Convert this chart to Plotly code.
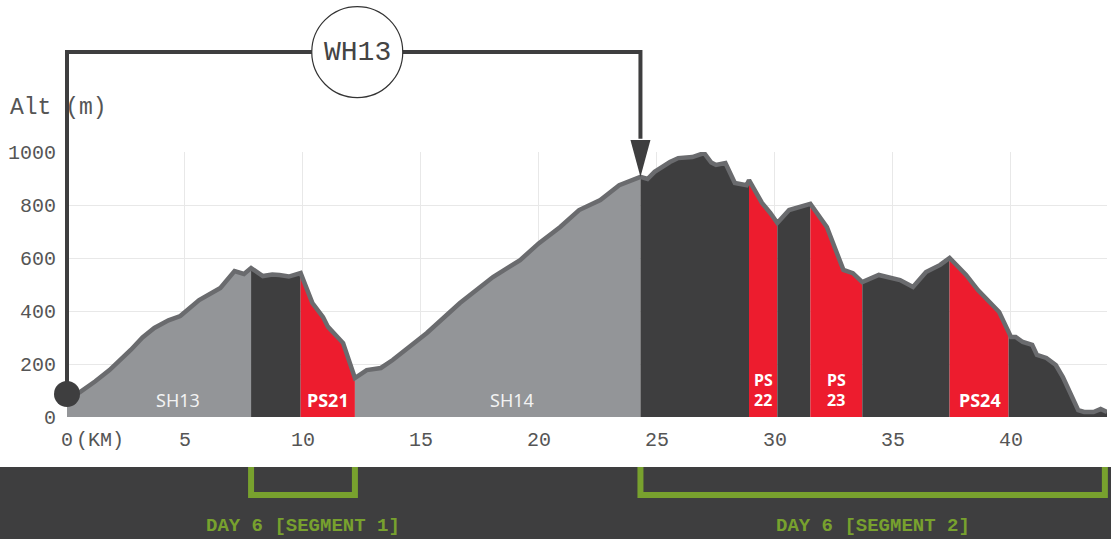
import numpy as np
import plotly.graph_objects as go

# ---------------- data ----------------
KM = [0, 0.55, 1.2, 1.8, 2.7, 3.2, 3.7, 4.3, 4.8, 5.6, 6.5, 7.1, 7.5, 7.8,
      8.3, 8.7, 9.0, 9.4, 9.9, 10.4, 10.85, 11.06, 11.7, 12.2, 12.7, 13.3,
      13.8, 15.25, 16.65, 18.05, 19.2, 20.0, 20.9, 21.7, 22.6, 23.4, 24.3,
      24.6, 24.9, 25.3, 25.55, 25.9, 26.5, 27.0, 27.3, 27.5, 27.9, 28.3, 28.8,
      28.9, 29.45, 29.8, 30.1, 30.6, 31.05, 31.5, 32.2, 32.9, 33.3, 33.7,
      34.4, 35.3, 35.85, 36.4, 37.0, 37.4, 38.1, 38.6, 39.5, 40.0, 40.2, 40.5,
      40.9, 41.1, 41.5, 41.9, 42.2, 42.5, 42.85, 43.1, 43.5, 43.8, 44.07]
ALT = [65, 94, 135, 177, 253, 300, 336, 365, 381, 441, 487, 551, 540, 562,
       532, 538, 536, 530, 543, 430, 377, 340, 279, 147, 177, 185,
       215, 317, 430, 528, 592, 656, 717, 781, 819, 875, 906,
       898, 925, 950, 962, 977, 981, 996, 960, 951, 958, 883, 875,
       894, 808, 770, 732, 781, 792, 804, 717, 555, 543, 509,
       536, 517, 491, 547, 574, 600, 536, 479, 396, 302, 302, 283,
       272, 234, 223, 196, 151, 91, 26, 19, 19, 30, 19]

SEG_BOUNDS = [0, 7.8, 9.9, 12.2, 24.3, 28.9, 30.1, 31.5, 33.7, 37.4, 39.9, 44.07]
SEG_KIND = ["sh", "dark", "ps", "sh", "dark", "ps", "dark", "ps", "dark", "ps", "dark"]
LABELS = ["SH13", "PS21", "SH14", "PS<br>22", "PS<br>23", "PS24"]
LABEL_KM = [4.7, 11.05, 18.85, 29.5, 32.6, 38.7]

X_TICKS = [0, 5, 10, 15, 20, 25, 30, 35, 40]
Y_TICKS = [0, 200, 400, 600, 800, 1000]

STAGE = "WH13"
DAY_LABELS = ["DAY 6 [SEGMENT 1]", "DAY 6 [SEGMENT 2]"]
DAY_RANGES = [(7.8, 12.2), (24.3, 43.98)]

X_MAX = 44.07
Y_MAX = 1000

COLORS = {"sh": "#939598", "dark": "#3e3e3f", "ps": "#ed1c2e"}
LINE_COLOR = "#6a6b6e"
INK = "#3e3e3f"
GREEN = "#78a12e"
MONO = "Liberation Mono, DejaVu Sans Mono, monospace"
SANS = "Noto Sans, Open Sans, sans-serif"

def xp(km):
    return km / X_MAX

def yp(alt):
    return alt / Y_MAX

fig = go.Figure()

# segment fills
km_arr = np.array(KM, dtype=float)
alt_arr = np.array(ALT, dtype=float)
for i, kind in enumerate(SEG_KIND):
    a, b = SEG_BOUNDS[i], SEG_BOUNDS[i + 1]
    xs = [a] + [k for k in KM if a < k < b] + [b]
    ys = np.interp(xs, km_arr, alt_arr)
    fig.add_trace(go.Scatter(x=xs, y=ys, mode="lines", fill="tozeroy",
                             fillcolor=COLORS[kind], line=dict(width=0.6, color=COLORS[kind]),
                             hoverinfo="skip", showlegend=False))

# profile line
fig.add_trace(go.Scatter(x=KM, y=ALT, mode="lines",
                         line=dict(color=LINE_COLOR, width=4.5),
                         hoverinfo="skip", showlegend=False))

# start marker
fig.add_trace(go.Scatter(x=[KM[0]], y=[87], mode="markers", cliponaxis=False,
                         marker=dict(size=26, color=INK, line=dict(width=0)),
                         hoverinfo="skip", showlegend=False))

shapes = []
# connector WH13
top = 1377
shapes.append(dict(type="path", xref="paper", yref="paper",
                   path=f"M {xp(0)},{yp(87)} L {xp(0)},{yp(top)} L {xp(24.3)},{yp(top)} L {xp(24.3)},{yp(1050)}",
                   line=dict(color=INK, width=4)))
hw = 10 / 1040
shapes.append(dict(type="path", xref="paper", yref="paper",
                   path=f"M {xp(24.3)-hw},{yp(1045)} L {xp(24.3)+hw},{yp(1045)} L {xp(24.3)},{yp(906)} Z",
                   fillcolor=INK, line=dict(color=INK, width=0)))
shapes.append(dict(type="circle", xref="paper", yref="paper",
                   xsizemode="pixel", ysizemode="pixel",
                   xanchor=xp(12.3), yanchor=yp(top),
                   x0=-45.5, x1=45.5, y0=-45.5, y1=45.5,
                   fillcolor="white", line=dict(color="#333333", width=1.2)))

# bottom band
shapes.append(dict(type="rect", xref="paper", yref="paper",
                   x0=-0.1, x1=1.1, y0=-0.5, y1=yp(-189),
                   fillcolor=INK, line=dict(width=0)))
for (a, b) in DAY_RANGES:
    shapes.append(dict(type="path", xref="paper", yref="paper",
                       path=f"M {xp(a)},{yp(-189)} L {xp(a)},{yp(-294)} L {xp(b)},{yp(-294)} L {xp(b)},{yp(-189)}",
                       line=dict(color=GREEN, width=6)))

annotations = []
annotations.append(dict(text=STAGE, xref="paper", yref="paper", x=xp(12.3), y=yp(top),
                        showarrow=False, font=dict(family=MONO, size=28, color="#444444"),
                        xanchor="center", yanchor="middle"))
annotations.append(dict(text="Alt (m)", xref="paper", yref="paper", x=-59 / 1040, y=yp(1166),
                        showarrow=False, font=dict(family=MONO, size=23, color="#555555"),
                        xanchor="left", yanchor="middle"))
annotations.append(dict(text="(KM)", xref="paper", yref="paper", x=7 / 1040, y=yp(-90),
                        showarrow=False, font=dict(family=MONO, size=20, color="#555555"),
                        xanchor="left", yanchor="middle"))
for lab, km in zip(LABELS, LABEL_KM):
    bold = lab.startswith("PS")
    parts = lab.split("<br>")
    if len(parts) == 1:
        annotations.append(dict(text=f"<b>{lab}</b>" if bold else lab, x=km, y=64, xref="x", yref="y",
                                showarrow=False, xanchor="center", yanchor="middle",
                                font=dict(family=SANS, size=18, color="white" if bold else "#f2f2f2")))
    else:
        for j, p in enumerate(parts):
            annotations.append(dict(text=f"<b>{p}</b>", x=km, y=140 - 76 * j, xref="x", yref="y",
                                    showarrow=False, xanchor="center", yanchor="middle",
                                    borderpad=0,
                                    font=dict(family=SANS, size=16, color="white")))
for lab, (a, b) in zip(DAY_LABELS, DAY_RANGES):
    annotations.append(dict(text=f"<b>{lab}</b>", xref="paper", yref="paper",
                            x=xp((a + b) / 2), y=yp(-411), showarrow=False,
                            xanchor="center", yanchor="middle",
                            font=dict(family=MONO, size=19, color=GREEN)))

fig.update_layout(
    width=1111, height=539,
    margin=dict(l=67, r=4, t=152, b=122),
    paper_bgcolor="white", plot_bgcolor="white",
    shapes=shapes, annotations=annotations,
    xaxis=dict(range=[0, X_MAX], tickvals=X_TICKS,
               ticktext=[str(v) for v in X_TICKS],
               showgrid=True, gridcolor="#e8e8e8", gridwidth=1,
               zeroline=False, showline=False, ticks="",
               ticklabelstandoff=8,
               tickfont=dict(family=MONO, size=20, color="#555555")),
    yaxis=dict(range=[0, Y_MAX], tickvals=Y_TICKS,
               showgrid=True, gridcolor="#e8e8e8", gridwidth=1,
               zeroline=False, showline=False, ticks="",
               ticklabelstandoff=10,
               tickfont=dict(family=MONO, size=20, color="#555555")),
)

fig.write_html("out.html", config={"displayModeBar": False},
               post_script="document.body.style.margin='0';document.body.style.padding='0';")
